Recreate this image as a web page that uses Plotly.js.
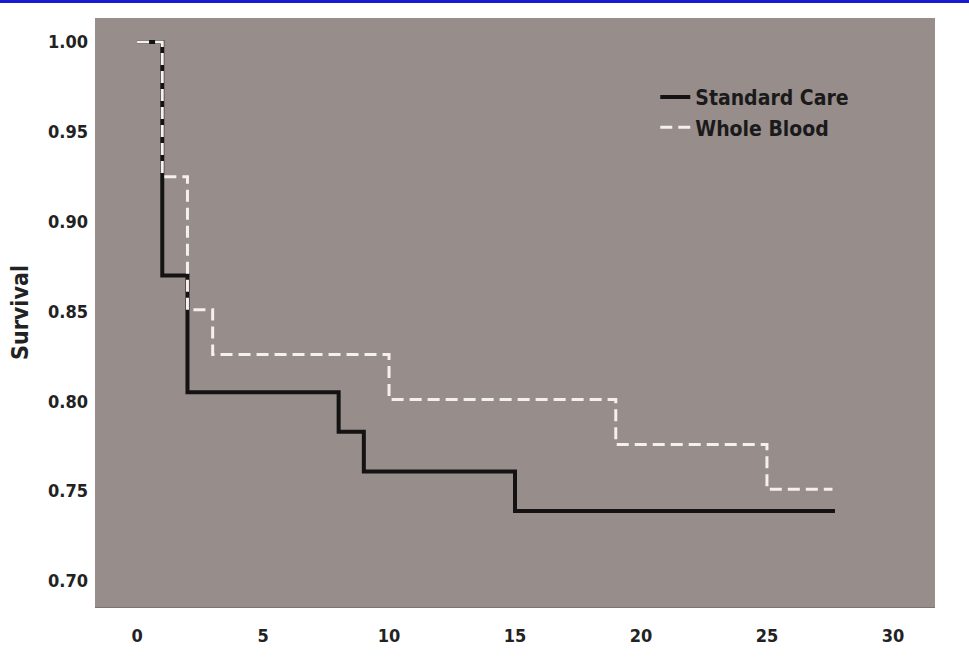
<!DOCTYPE html>
<html><head><meta charset="utf-8">
<script src="https://cdn.plot.ly/plotly-3.0.1.min.js"></script>
<style>html,body{margin:0;padding:0;background:#fff;}#chart{width:969px;height:659px;}</style>
</head><body><div id="chart"></div>
<script>
const seriesNames = ["Standard Care", "Whole Blood"];
const standardTime = [0, 1, 2, 8, 9, 15, 27.7];
const standardSurv = [1.00, 0.870, 0.805, 0.783, 0.761, 0.739, 0.739];
const wholeTime = [0, 1, 2, 3, 10, 19, 25, 27.6];
const wholeSurv = [1.00, 0.925, 0.851, 0.826, 0.801, 0.776, 0.751, 0.751];
const xTicks = [0, 5, 10, 15, 20, 25, 30];
const yTicks = [0.70, 0.75, 0.80, 0.85, 0.90, 0.95, 1.00];

const fontFam = '"DejaVu Sans Condensed", "Liberation Sans Narrow", "Arial Narrow", sans-serif';
const traces = [
  {x: standardTime, y: standardSurv, name: seriesNames[0], type: 'scatter', mode: 'lines',
   line: {shape: 'hv', color: '#141212', width: 4}},
  {x: wholeTime, y: wholeSurv, name: seriesNames[1], type: 'scatter', mode: 'lines',
   line: {shape: 'hv', color: '#f4f0ee', width: 3, dash: '12px,6px'}}
];
const layout = {
  width: 969, height: 659,
  margin: {l: 95, r: 34, t: 18, b: 52},
  paper_bgcolor: '#ffffff',
  plot_bgcolor: '#978d8b',
  showlegend: true,
  legend: {x: 0.667, y: 0.9, xanchor: 'left', yanchor: 'top', bgcolor: 'rgba(0,0,0,0)',
    font: {family: fontFam, size: 21, color: '#1a1a1a', weight: 'bold'}, tracegroupgap: 0, itemwidth: 30},
  xaxis: {range: [-1.67, 31.67], tickvals: xTicks, ticktext: xTicks.map(String), showgrid: false, zeroline: false,
    showline: true, linecolor: '#7d7472', linewidth: 1, ticks: '', ticklen: 0, ticklabelstandoff: 12,
    tickfont: {family: fontFam, size: 18, color: '#222', weight: 'bold'}, automargin: false},
  yaxis: {range: [0.6855, 1.0134], tickvals: yTicks, ticktext: yTicks.map(v => v.toFixed(2)), showgrid: false, zeroline: false,
    showline: false, ticks: '', ticklen: 0, ticklabelstandoff: 6,
    tickfont: {family: fontFam, size: 18, color: '#222', weight: 'bold'},
    title: {text: 'Survival', font: {family: fontFam, size: 23, color: '#222', weight: 'bold'}, standoff: 12}, automargin: false},
  shapes: [
    {type: 'rect', xref: 'paper', yref: 'paper', x0: -0.2, x1: 1.1, y0: 1.0255, y1: 1.031, line: {width: 0}, fillcolor: '#1a1ad0', layer: 'above'}
  ]
};
Plotly.newPlot('chart', traces, layout, {displayModeBar: false, staticPlot: true});
</script></body></html>
